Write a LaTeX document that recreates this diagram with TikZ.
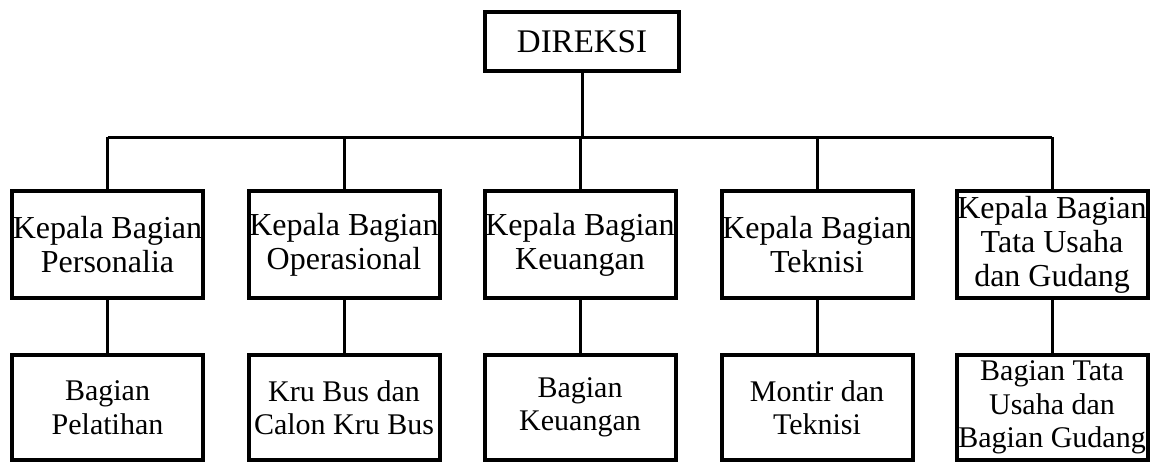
\documentclass[tikz,border=0pt]{standalone}
\usepackage{fontspec}
\setmainfont{Liberation Serif}
\usetikzlibrary{positioning,calc}

\begin{document}
\begin{tikzpicture}[
  x=1pt, y=-1pt,
  box/.style={draw=black, line width=4pt, align=center, inner sep=0pt,
    minimum width=191pt},
  headbox/.style={box, minimum height=107pt, font=\fontsize{32}{34}\selectfont},
  subbox/.style={box, minimum height=105pt, font=\fontsize{30}{33.5}\selectfont},
  link/.style={draw=black, line width=3pt},
]

% geometry
\def\ya{244.5}      % row of the heads
\def\yb{407.5}      % row of the sub units
\def\ybar{137}      % horizontal bus

\useasboundingbox (0,0) rectangle (1151,464);

% ============ top ============
\node[box, minimum width=194pt, minimum height=59pt, font=\fontsize{33}{36}\selectfont]
  (dir) at (582,41.5) {DIREKSI};
\coordinate (bar) at (0,\ybar);

% ============ ROW (a): kepala bagian ============
\node[headbox] (kpers) at (107.5,\ya) {Kepala Bagian\\Personalia};
\node[headbox] (kops)  at (344,\ya)   {Kepala Bagian\\Operasional};
\node[headbox] (kkeu)  at (580,\ya)   {Kepala Bagian\\Keuangan};
\node[headbox] (ktek)  at (817,\ya)   {Kepala Bagian\\Teknisi};
\node[headbox] (ktu)   at (1052,\ya)  {Kepala Bagian\\Tata Usaha\\dan Gudang};

% ============ ROW (b): bagian ============
\node[subbox] (bpel) at (107.5,\yb) {Bagian\\Pelatihan};
\node[subbox] (bkru) at (344,\yb)   {Kru Bus dan\\Calon Kru Bus};
\node[subbox] (bkeu) at (580,\yb)   {Bagian\\Keuangan};
\node[subbox] (bmon) at (817,\yb)   {Montir dan\\Teknisi};
\node[subbox] (btu)  at (1052,\yb)  {Bagian Tata\\Usaha dan\\Bagian Gudang};

% ============ connectors ============
\draw[link] (dir.south) -- (dir.south |- bar);
\draw[link] (kpers.north |- bar) -- (ktu.north |- bar);
\draw[link] (kpers.north |- bar) -- (kpers.north);
\draw[link] (kops.north |- bar) -- (kops.north);
\draw[link] (kkeu.north |- bar) -- (kkeu.north);
\draw[link] (ktek.north |- bar) -- (ktek.north);
\draw[link] (ktu.north |- bar) -- (ktu.north);

\draw[link] (kpers) -- (bpel);
\draw[link] (kops) -- (bkru);
\draw[link] (kkeu) -- (bkeu);
\draw[link] (ktek) -- (bmon);
\draw[link] (ktu) -- (btu);

\end{tikzpicture}
\end{document}
